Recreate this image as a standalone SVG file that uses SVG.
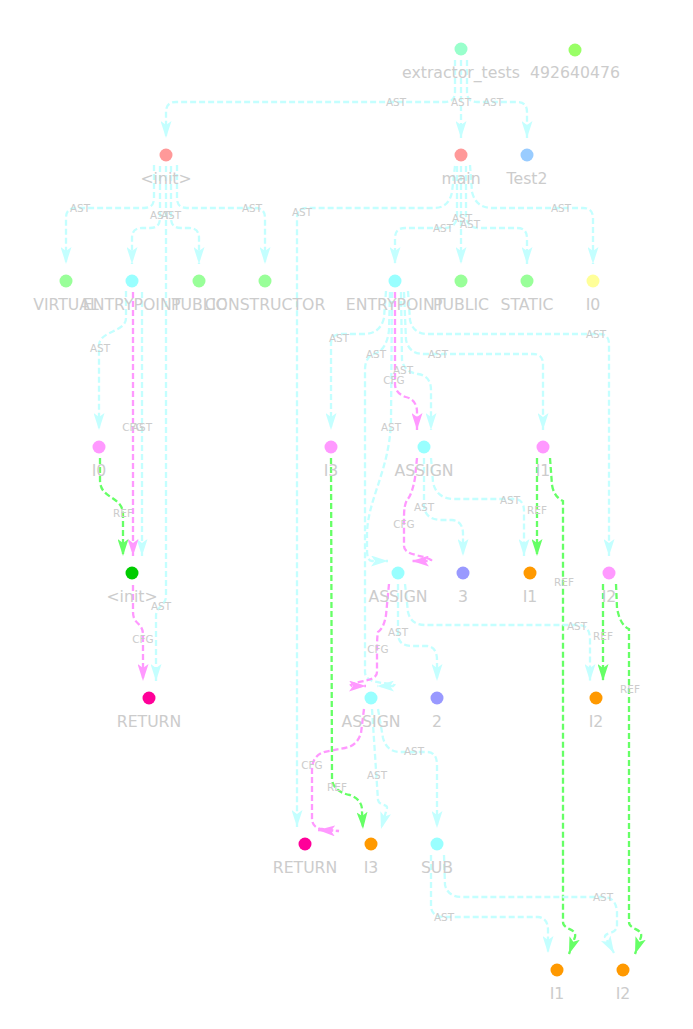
<svg xmlns="http://www.w3.org/2000/svg" width="693" height="1029" viewBox="0 0 693 1029">
<style>
.e{fill:none;stroke-width:2.3;stroke-dasharray:6 3}
.ast{stroke:#c4ffff;marker-end:url(#mA)}
.cfg{stroke:#ff99ff;marker-end:url(#mC)}
.ref{stroke:#66ff66;marker-end:url(#mR)}
.el{font-family:"DejaVu Sans",sans-serif;font-size:10.4px;fill:#cccccc;text-anchor:middle}
.nl{font-family:"DejaVu Sans",sans-serif;font-size:15.7px;fill:#cccccc;text-anchor:middle}
</style>
<defs>
<marker id="mA" viewBox="0 0 17 11" refX="17" refY="5.5" markerWidth="17" markerHeight="11" markerUnits="userSpaceOnUse" orient="auto"><path d="M0,0 L17,5.5 L0,11 L4,5.5 Z" fill="#c4ffff"/></marker>
<marker id="mC" viewBox="0 0 17 11" refX="17" refY="5.5" markerWidth="17" markerHeight="11" markerUnits="userSpaceOnUse" orient="auto"><path d="M0,0 L17,5.5 L0,11 L4,5.5 Z" fill="#ff99ff"/></marker>
<marker id="mR" viewBox="0 0 17 11" refX="17" refY="5.5" markerWidth="17" markerHeight="11" markerUnits="userSpaceOnUse" orient="auto"><path d="M0,0 L17,5.5 L0,11 L4,5.5 Z" fill="#66ff66"/></marker>
</defs>
<rect width="693" height="1029" fill="#ffffff"/>
<g id="connectors">
<path class="e ast" d="M455,60 L455,92 Q455,102 445,102 L176,102 Q166,102 166,112 L166,138"/>
<path class="e ast" d="M461,60 L461,138"/>
<path class="e ast" d="M467,60 L467,92 Q467,102 477,102 L517,102 Q527,102 527,112 L527,138"/>
<path class="e ast" d="M154,165 L154,198 Q154,208 144,208 L76,208 Q66,208 66,218 L66,264"/>
<path class="e ast" d="M160,166 L160,218 Q160,228 150,228 L142,228 Q132,228 132,238 L132,264"/>
<path class="e ast" d="M171,166 L171,218 Q171,228 181,228 L189,228 Q199,228 199,238 L199,264"/>
<path class="e ast" d="M177,165 L177,198 Q177,208 187,208 L255,208 Q265,208 265,218 L265,264"/>
<path class="e ast" d="M166,166 L166,596 C166,606 156,606 156,616 L156,681"/>
<path class="e ast" d="M455,166 L452,192 Q449,208 434,208 L307,208 Q297,208 297,218 L297,827"/>
<path class="e ast" d="M457,166 L457,215 Q457,228 444,228 L405,228 Q395,228 395,238 L395,264"/>
<path class="e ast" d="M461,166 L461,264"/>
<path class="e ast" d="M466,166 L466,215 Q466,228 479,228 L517,228 Q527,228 527,238 L527,264"/>
<path class="e ast" d="M470,165 L472,192 Q476,208 492,208 L583,208 Q593,208 593,218 L593,264"/>
<path class="e ast" d="M126,291 L126,318 C126,333 99,330 99,346 L99,430"/>
<path class="e ast" d="M142,292 L142,556"/>
<path class="e cfg" d="M133,292 L133,556"/>
<path class="e ref" d="M100,458 L100,480 C100,500 123,495 123,515 L123,556"/>
<path class="e cfg" d="M133,585 L133,612 C133,625 143,622 143,635 L143,681"/>
<path class="e ast" d="M386,291 L384,318 Q380,334 364,334 L341,334 Q331,334 331,344 L331,430"/>
<path class="e ast" d="M390,292 L389,330 Q387,350 374,354 Q365,357 365,370 L365,672 C365,684 385,682 394,685 L393,686 L377,686"/>
<path class="e ast" d="M392,292 L391,420 C390,470 367,500 367,535 L367,550 Q367,561 372,561 L388,561"/>
<path class="e cfg" d="M395,292 L395,385 Q396,394 406,397 Q417,400 417,412 L417,430"/>
<path class="e ast" d="M401,292 L402,360 Q404,372 418,374 Q431,376 431,390 L431,430"/>
<path class="e ast" d="M404,292 L406,340 Q409,354 424,354 L533,354 Q543,354 543,364 L543,430"/>
<path class="e ast" d="M408,291 L410,320 Q413,334 428,334 L599,334 Q609,334 609,344 L609,556"/>
<path class="e cfg" d="M417,458 L415,478 Q412,495 407,500 Q404,505 404,517 L404,546 C404,556 425,555 431,560 L430,561 L412,561"/>
<path class="e ast" d="M424,458 L424,506 Q425,519 440,520 L452,520 Q463,521 463,534 L463,556"/>
<path class="e ast" d="M431,458 L433,482 Q436,499 455,499 L514,499 Q524,499 524,511 L524,556"/>
<path class="e ref" d="M537,458 L537,556"/>
<path class="e ref" d="M550,458 L552,485 Q554,497 563,501 L563,922 C563,930 577,928 575,937 L569,954"/>
<path class="e ref" d="M603,584 L603,681"/>
<path class="e ref" d="M616,584 L617,608 Q620,625 629,629 L629,922 C629,930 643,928 641,937 L635,954"/>
<path class="e cfg" d="M389,584 L386,615 Q384,628 378,632 Q377,636 377,650 L377,672 C377,682 358,680 351,685 L352,686 L366,686"/>
<path class="e ast" d="M398,584 L398,635 Q399,646 412,646 L427,646 Q437,647 437,660 L437,681"/>
<path class="e ast" d="M405,584 L408,612 Q411,625 425,625 L580,625 Q590,626 590,640 L590,681"/>
<path class="e cfg" d="M364,709 L361,733 Q357,746 345,748 L324,752 Q312,756 312,770 L312,818 Q312,828 322,829 L339,831 L338,831 L318,830"/>
<path class="e ast" d="M372,709 L376,770 L378,800 C379,806 388,804 387,808 L381,829"/>
<path class="e ast" d="M378,709 L383,738 Q387,752 400,752 L427,752 Q437,752 437,765 L437,828"/>
<path class="e ref" d="M331,458 L332,780 Q334,792 350,795 Q363,800 362,812 L363,829"/>
<path class="e ast" d="M431,855 L431,907 Q432,917 444,917 L538,917 Q548,918 548,930 L548,953"/>
<path class="e ast" d="M444,855 L445,885 Q448,897 462,897 L605,897 Q616,898 617,912 L617,925 C617,935 604,932 605,937 L614,953"/>
<text class="el" x="396" y="106">AST</text>
<text class="el" x="461" y="106">AST</text>
<text class="el" x="493" y="106">AST</text>
<text class="el" x="80" y="212">AST</text>
<text class="el" x="160" y="219">AST</text>
<text class="el" x="171" y="219">AST</text>
<text class="el" x="252" y="212">AST</text>
<text class="el" x="161" y="610">AST</text>
<text class="el" x="302" y="216">AST</text>
<text class="el" x="443" y="232">AST</text>
<text class="el" x="462" y="222">AST</text>
<text class="el" x="470" y="228">AST</text>
<text class="el" x="561" y="212">AST</text>
<text class="el" x="100" y="352">AST</text>
<text class="el" x="133" y="431">CFG</text>
<text class="el" x="142" y="431">AST</text>
<text class="el" x="123" y="517">REF</text>
<text class="el" x="143" y="643">CFG</text>
<text class="el" x="339" y="342">AST</text>
<text class="el" x="376" y="358">AST</text>
<text class="el" x="391" y="431">AST</text>
<text class="el" x="394" y="384">CFG</text>
<text class="el" x="403" y="374">AST</text>
<text class="el" x="438" y="358">AST</text>
<text class="el" x="596" y="338">AST</text>
<text class="el" x="404" y="528">CFG</text>
<text class="el" x="424" y="511">AST</text>
<text class="el" x="510" y="504">AST</text>
<text class="el" x="537" y="514">REF</text>
<text class="el" x="564" y="586">REF</text>
<text class="el" x="603" y="640">REF</text>
<text class="el" x="630" y="693">REF</text>
<text class="el" x="378" y="653">CFG</text>
<text class="el" x="398" y="636">AST</text>
<text class="el" x="577" y="630">AST</text>
<text class="el" x="312" y="769">CFG</text>
<text class="el" x="377" y="779">AST</text>
<text class="el" x="414" y="755">AST</text>
<text class="el" x="337" y="791">REF</text>
<text class="el" x="444" y="921">AST</text>
<text class="el" x="603" y="901">AST</text>
</g>
<g id="n-extractor_tests"><circle cx="461" cy="49" r="6.5" fill="#99ffcc"/><text class="nl" x="461" y="78">extractor_tests</text></g>
<g id="n-492640476"><circle cx="575" cy="50" r="6.5" fill="#99ff66"/><text class="nl" x="575" y="78">492640476</text></g>
<g id="n-init"><circle cx="166" cy="155" r="6.5" fill="#ff9999"/><text class="nl" x="166" y="184">&lt;init&gt;</text></g>
<g id="n-main"><circle cx="461" cy="155" r="6.5" fill="#ff9999"/><text class="nl" x="461" y="184">main</text></g>
<g id="n-test2"><circle cx="527" cy="155" r="6.5" fill="#99ccff"/><text class="nl" x="527" y="184">Test2</text></g>
<g id="n-virtual"><circle cx="66" cy="281" r="6.5" fill="#99ff99"/><text class="nl" x="66" y="310">VIRTUAL</text></g>
<g id="n-entrypoint1"><circle cx="132" cy="281" r="6.5" fill="#99ffff"/><text class="nl" x="132" y="310">ENTRYPOINT</text></g>
<g id="n-public1"><circle cx="199" cy="281" r="6.5" fill="#99ff99"/><text class="nl" x="199" y="310">PUBLIC</text></g>
<g id="n-constructor"><circle cx="265" cy="281" r="6.5" fill="#99ff99"/><text class="nl" x="265" y="310">CONSTRUCTOR</text></g>
<g id="n-entrypoint2"><circle cx="395" cy="281" r="6.5" fill="#99ffff"/><text class="nl" x="395" y="310">ENTRYPOINT</text></g>
<g id="n-public2"><circle cx="461" cy="281" r="6.5" fill="#99ff99"/><text class="nl" x="461" y="310">PUBLIC</text></g>
<g id="n-static"><circle cx="527" cy="281" r="6.5" fill="#99ff99"/><text class="nl" x="527" y="310">STATIC</text></g>
<g id="n-i0-top"><circle cx="593" cy="281" r="6.5" fill="#ffff99"/><text class="nl" x="593" y="310">I0</text></g>
<g id="n-i0"><circle cx="99" cy="447" r="6.5" fill="#ff99ff"/><text class="nl" x="99" y="476">I0</text></g>
<g id="n-i3-decl"><circle cx="331" cy="447" r="6.5" fill="#ff99ff"/><text class="nl" x="331" y="476">I3</text></g>
<g id="n-assign1"><circle cx="424" cy="447" r="6.5" fill="#99ffff"/><text class="nl" x="424" y="476">ASSIGN</text></g>
<g id="n-i1-decl"><circle cx="543" cy="447" r="6.5" fill="#ff99ff"/><text class="nl" x="543" y="476">I1</text></g>
<g id="n-init-call"><circle cx="132" cy="573" r="6.5" fill="#00cc00"/><text class="nl" x="132" y="602">&lt;init&gt;</text></g>
<g id="n-assign2"><circle cx="398" cy="573" r="6.5" fill="#99ffff"/><text class="nl" x="398" y="602">ASSIGN</text></g>
<g id="n-lit3"><circle cx="463" cy="573" r="6.5" fill="#9999ff"/><text class="nl" x="463" y="602">3</text></g>
<g id="n-i1-a"><circle cx="530" cy="573" r="6.5" fill="#ff9900"/><text class="nl" x="530" y="602">I1</text></g>
<g id="n-i2-decl"><circle cx="609" cy="573" r="6.5" fill="#ff99ff"/><text class="nl" x="609" y="602">I2</text></g>
<g id="n-return1"><circle cx="149" cy="698" r="6.5" fill="#ff0099"/><text class="nl" x="149" y="727">RETURN</text></g>
<g id="n-assign3"><circle cx="371" cy="698" r="6.5" fill="#99ffff"/><text class="nl" x="371" y="727">ASSIGN</text></g>
<g id="n-lit2"><circle cx="437" cy="698" r="6.5" fill="#9999ff"/><text class="nl" x="437" y="727">2</text></g>
<g id="n-i2-a"><circle cx="596" cy="698" r="6.5" fill="#ff9900"/><text class="nl" x="596" y="727">I2</text></g>
<g id="n-return2"><circle cx="305" cy="844" r="6.5" fill="#ff0099"/><text class="nl" x="305" y="873">RETURN</text></g>
<g id="n-i3-a"><circle cx="371" cy="844" r="6.5" fill="#ff9900"/><text class="nl" x="371" y="873">I3</text></g>
<g id="n-sub"><circle cx="437" cy="844" r="6.5" fill="#99ffff"/><text class="nl" x="437" y="873">SUB</text></g>
<g id="n-i1-b"><circle cx="557" cy="970" r="6.5" fill="#ff9900"/><text class="nl" x="557" y="999">I1</text></g>
<g id="n-i2-b"><circle cx="623" cy="970" r="6.5" fill="#ff9900"/><text class="nl" x="623" y="999">I2</text></g>
</svg>
